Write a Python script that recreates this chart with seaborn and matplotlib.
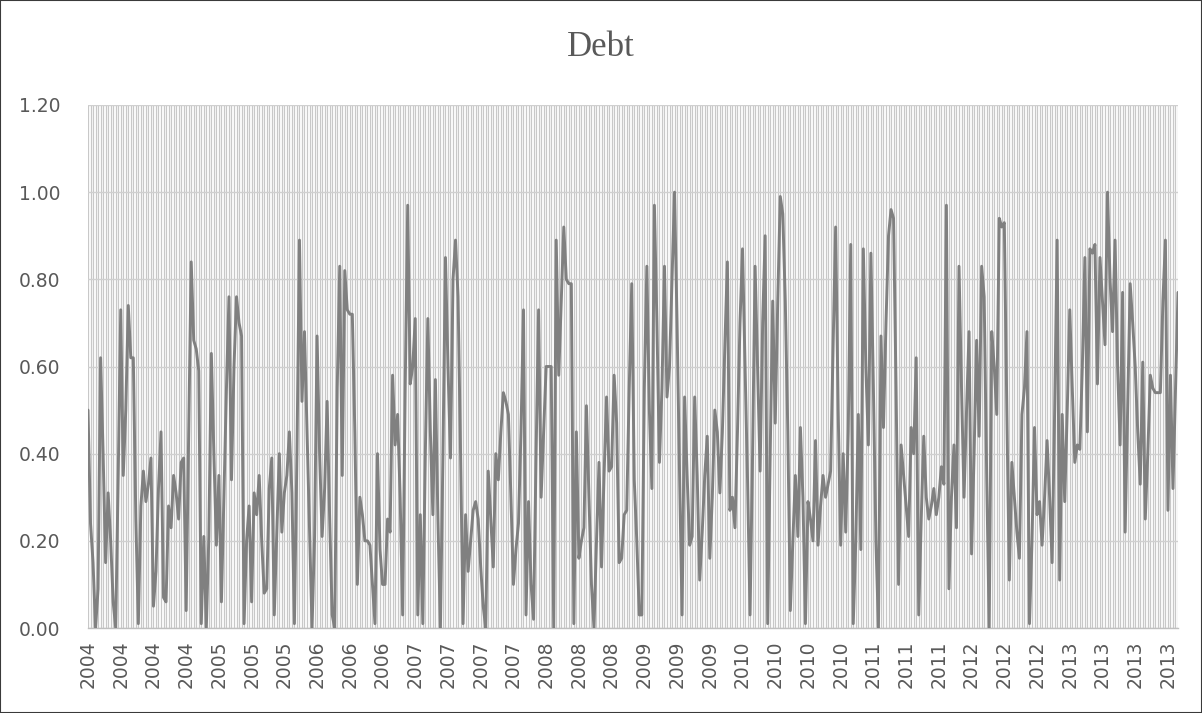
import numpy as np
import pandas as pd
import matplotlib
matplotlib.use("Agg")
import matplotlib.pyplot as plt
import seaborn as sns
from matplotlib.patches import Rectangle

# Weekly debt index, split into consecutive stretches of observations
seg_1 = [0.50, 0.24, 0.15, 0.00, 0.09, 0.62, 0.40, 0.15, 0.31, 0.20,
         0.06, 0.00, 0.35, 0.73, 0.35, 0.50, 0.74, 0.62, 0.62, 0.25,
         0.01, 0.28, 0.36, 0.29, 0.33, 0.39, 0.05, 0.13, 0.32, 0.45,
         0.07, 0.06, 0.28, 0.23, 0.35, 0.31, 0.25, 0.38, 0.39, 0.04,
         0.45, 0.84, 0.66, 0.64, 0.59, 0.01, 0.21, 0.00, 0.21, 0.63,
         0.40, 0.19, 0.35]
seg_2 = [0.06, 0.30, 0.55, 0.76, 0.34, 0.60, 0.76, 0.70, 0.67, 0.01,
         0.20, 0.28, 0.06, 0.31, 0.26, 0.35, 0.20, 0.08, 0.09, 0.32,
         0.39, 0.03, 0.22, 0.40, 0.22, 0.31, 0.35, 0.45, 0.31, 0.01,
         0.40, 0.89, 0.52, 0.68, 0.45, 0.21, 0.00, 0.21, 0.67, 0.40,
         0.21, 0.32, 0.52, 0.25, 0.03, 0.00, 0.55, 0.83, 0.35, 0.82,
         0.73, 0.72, 0.72, 0.45, 0.10, 0.30]
seg_3 = [0.26, 0.20, 0.20, 0.19, 0.10, 0.01, 0.40, 0.18, 0.10, 0.10,
         0.25, 0.22, 0.58, 0.42, 0.49, 0.30, 0.03, 0.55, 0.97, 0.56,
         0.60, 0.71, 0.03, 0.26, 0.01, 0.40, 0.71, 0.45, 0.26, 0.57,
         0.25, 0.00, 0.40, 0.85, 0.60, 0.39, 0.80, 0.89, 0.76, 0.40,
         0.01, 0.26, 0.13, 0.20, 0.27, 0.29, 0.25, 0.14, 0.05, 0.00,
         0.36, 0.25, 0.14, 0.40]
seg_4 = [0.34, 0.45, 0.54, 0.52, 0.49, 0.30, 0.10, 0.18, 0.24, 0.45,
         0.73, 0.03, 0.29, 0.10, 0.02, 0.40, 0.73, 0.30, 0.45, 0.60,
         0.60, 0.60, 0.00, 0.89, 0.58, 0.75, 0.92, 0.80, 0.79, 0.79,
         0.01, 0.45, 0.16, 0.20, 0.23, 0.51, 0.30, 0.10, 0.00, 0.20,
         0.38, 0.14, 0.35, 0.53, 0.36, 0.37, 0.58, 0.47, 0.15, 0.16,
         0.26, 0.27, 0.55, 0.79]
seg_5 = [0.34, 0.20, 0.03, 0.03, 0.55, 0.83, 0.50, 0.32, 0.97, 0.70,
         0.38, 0.55, 0.83, 0.53, 0.60, 0.80, 1.00, 0.70, 0.35, 0.03,
         0.53, 0.35, 0.19, 0.21, 0.53, 0.35, 0.11, 0.22, 0.35, 0.44,
         0.16, 0.30, 0.50, 0.45, 0.31, 0.45, 0.65, 0.84, 0.27, 0.30,
         0.23, 0.45, 0.70, 0.87, 0.60, 0.34, 0.03, 0.40, 0.83, 0.60,
         0.36, 0.70, 0.90]
seg_6 = [0.01, 0.40, 0.75, 0.47, 0.75, 0.99, 0.95, 0.75, 0.45, 0.04,
         0.20, 0.35, 0.21, 0.46, 0.30, 0.01, 0.29, 0.25, 0.20, 0.43,
         0.19, 0.28, 0.35, 0.30, 0.33, 0.36, 0.65, 0.92, 0.50, 0.19,
         0.40, 0.22, 0.45, 0.88, 0.01, 0.20, 0.49, 0.18, 0.87, 0.60,
         0.42, 0.86, 0.55, 0.20, 0.00, 0.67, 0.46, 0.70, 0.90, 0.96,
         0.94, 0.55, 0.10, 0.42]
seg_7 = [0.35, 0.28, 0.21, 0.46, 0.40, 0.62, 0.03, 0.25, 0.44, 0.30,
         0.25, 0.28, 0.32, 0.26, 0.30, 0.37, 0.33, 0.97, 0.09, 0.30,
         0.42, 0.23, 0.83, 0.55, 0.30, 0.50, 0.68, 0.17, 0.40, 0.66,
         0.44, 0.83, 0.76, 0.35, 0.00, 0.68, 0.60, 0.49, 0.94, 0.92,
         0.93, 0.50, 0.11, 0.38, 0.30, 0.22, 0.16, 0.49, 0.55, 0.68,
         0.01, 0.20, 0.46, 0.26, 0.29]
seg_8 = [0.19, 0.30, 0.43, 0.30, 0.15, 0.50, 0.89, 0.11, 0.49, 0.29,
         0.50, 0.73, 0.55, 0.38, 0.42, 0.41, 0.60, 0.85, 0.45, 0.87,
         0.86, 0.88, 0.56, 0.85, 0.75, 0.65, 1.00, 0.80, 0.68, 0.89,
         0.60, 0.42, 0.77, 0.22, 0.50, 0.79, 0.70, 0.60, 0.45, 0.33,
         0.61, 0.25, 0.40, 0.58, 0.55, 0.54, 0.54, 0.54, 0.75, 0.89,
         0.27, 0.58, 0.32, 0.55, 0.77]

# Year shown under every 13th observation (quarterly labels)
year_labels = (["2004"] * 4 + ["2005"] * 3 + ["2006"] * 3 + ["2007"] * 4 +
               ["2008"] * 3 + ["2009"] * 3 + ["2010"] * 4 + ["2011"] * 3 +
               ["2012"] * 3 + ["2013"] * 4)
label_step = 13
y_ticks = [0.0, 0.2, 0.4, 0.6, 0.8, 1.0, 1.2]

debt = seg_1 + seg_2 + seg_3 + seg_4 + seg_5 + seg_6 + seg_7 + seg_8
n = len(debt)
df = pd.DataFrame({"obs": np.arange(n), "debt": debt})

sns.set_style("white")
plt.rcParams["font.family"] = ["DejaVu Sans"]

W, H = 1202, 713
fig = plt.figure(figsize=(W / 100, H / 100), dpi=100)
left, right, top, bottom = 88, 1178, 105, 628
ax = fig.add_axes([left / W, 1 - bottom / H, (right - left) / W, (bottom - top) / H])

sns.lineplot(data=df, x="obs", y="debt", ax=ax, color="#808080",
             linewidth=2.1, zorder=3)

ax.set_xlim(0, n - 1)
ax.set_ylim(0, 1.2)
ax.set_yticks(y_ticks)
ax.set_yticklabels([f"{v:.2f}" for v in y_ticks])
tick_pos = np.arange(0, n, label_step)[:len(year_labels)]
ax.set_xticks(tick_pos)
ax.set_xticklabels(year_labels, rotation=90)
ax.set_xticks(np.arange(n), minor=True)

grid_col = "#c8c8c8"
ax.grid(which="minor", axis="x", color=grid_col, linewidth=0.9)
ax.grid(which="major", axis="x", color=grid_col, linewidth=0.9)
ax.grid(which="major", axis="y", color="#d0d0d0", linewidth=1.0)
ax.set_axisbelow(True)

ax.tick_params(axis="both", which="both", length=0, colors="#595959",
               labelsize=13.5)
ax.tick_params(axis="y", pad=20)
ax.tick_params(axis="x", pad=9)
ax.set_xlabel("")
ax.set_ylabel("")
for side in ("top", "right", "left"):
    ax.spines[side].set_visible(False)
ax.spines["bottom"].set_color("#bfbfbf")
ax.spines["bottom"].set_linewidth(1.0)

fig.text(0.5, 1 - 48 / H, "Debt", ha="center", va="center",
         family=["Liberation Serif"], fontsize=25, color="#595959")

fig.patches.append(Rectangle((0, 0), 1, 1, transform=fig.transFigure,
                             fill=False, edgecolor="#3a3a3a", linewidth=1.5))

fig.savefig("out.png", dpi=100)
